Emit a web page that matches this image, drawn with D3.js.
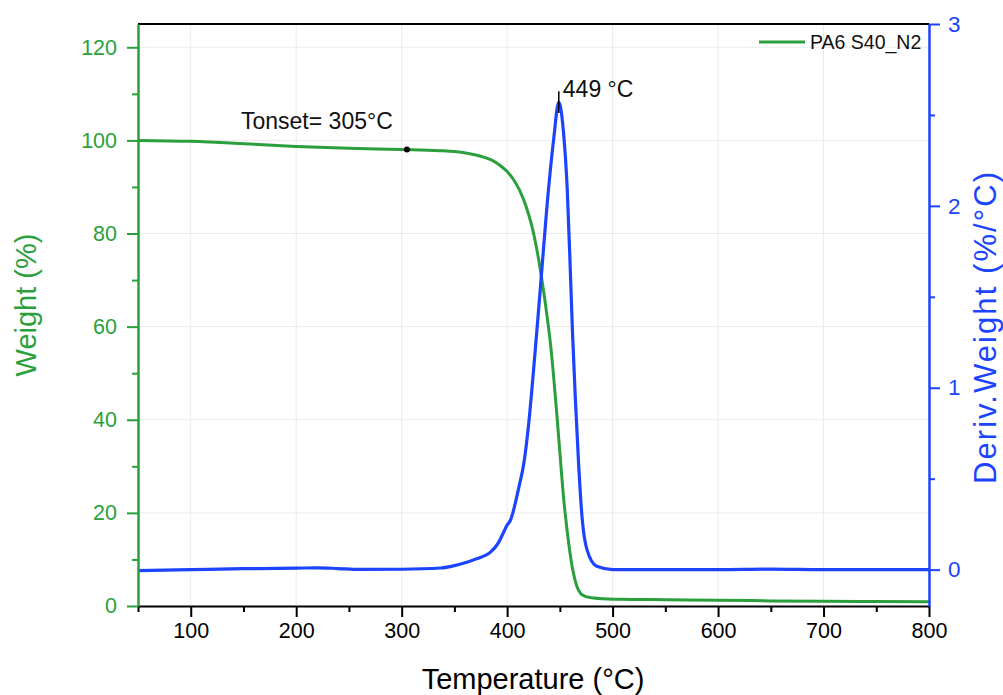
<!DOCTYPE html>
<html>
  <head>
    <meta charset="utf-8">
    <title>PA6 S40_N2 TGA</title>
    <script src="https://d3js.org/d3.v7.min.js"></script>
    <style>
      body { margin: 0; background: #fff; }
      text { font-family: "Liberation Sans", Arial, sans-serif; }
    </style>
  </head>
  <body>
    <script>
      // TGA weight curve
      var weightTemp = [50,100,150,200,250,300,336,350,362,375,385,394,400,406,412,418,423,428,433,438,441,444,447,450,453,457,462,466,470,475,482,490,507,550,600,650,700,750,800];
      var weightVal  = [100,99.8,99.3,98.7,98.3,98.05,97.8,97.6,97.25,96.6,95.8,94.5,93.3,91.6,89.2,85.8,82,76.8,70,62,56.5,49.5,41.5,33,24.5,16,8,4.3,2.6,2.0,1.7,1.55,1.45,1.35,1.25,1.1,1.0,0.95,0.9];

      // derivative curve
      var dtgTemp = [50,100,150,200,220,240,260,300,337,350,360,368,376,384,392,397,400,403,411,416,420.4,426.7,431.4,437.8,444,449,453.5,457,460,462,464.6,467.7,471,475.7,485,500,550,600,650,700,800];
      var dtgVal  = [-0.005,0.0,0.005,0.008,0.01,0.006,0.001,0.002,0.009,0.022,0.038,0.053,0.07,0.095,0.15,0.21,0.245,0.27,0.45,0.59,0.8,1.21,1.54,2.0,2.36,2.57,2.40,2.09,1.63,1.3,0.95,0.59,0.29,0.11,0.018,0.0,0.0,0.0,0.003,0.0,0.0];

      var xTicks = [100,200,300,400,500,600,700,800];
      var xMinor = [50,150,250,350,450,550,650,750];
      var wTicks = [0,20,40,60,80,100,120];
      var wMinor = [10,30,50,70,90,110];
      var dTicks = [0,1,2,3];
      var dMinor = [0.5,1.5,2.5];

      var seriesName = "PA6 S40_N2";
      var onsetT = 305, onsetW = 98.05;
      var peakT = 449;

      var green = "#2a9f3c";
      var blue = "#1c44ff";

      var W = 1003, H = 695;
      var pLeft = 138, pRight = 929, pTop = 24, pBottom = 606;

      var x = d3.scaleLinear().domain([50, 800]).range([pLeft, pRight]);
      var yW = d3.scaleLinear().domain([0, 125]).range([pBottom, pTop]);
      var yD = d3.scaleLinear().domain([-0.2, 3]).range([pBottom, pTop]);

      var svg = d3.select("body").append("svg")
        .attr("width", W).attr("height", H);

      // grid
      var grid = svg.append("g").attr("stroke", "#ebebeb").attr("stroke-width", 1);
      grid.selectAll(".gx").data(xTicks).enter().append("line")
        .attr("x1", function(d) { return x(d); }).attr("x2", function(d) { return x(d); })
        .attr("y1", pTop).attr("y2", pBottom);
      grid.selectAll(".gy").data(wTicks.filter(function(d) { return d > 0; })).enter().append("line")
        .attr("x1", pLeft).attr("x2", pRight)
        .attr("y1", function(d) { return yW(d); }).attr("y2", function(d) { return yW(d); });

      // top border
      svg.append("line").attr("x1", pLeft).attr("x2", pRight).attr("y1", pTop).attr("y2", pTop)
        .attr("stroke", "#000").attr("stroke-width", 2);

      // curves
      var wData = weightTemp.map(function(t, i) { return [t, weightVal[i]]; });
      var dData = dtgTemp.map(function(t, i) { return [t, dtgVal[i]]; });

      svg.append("path").datum(wData)
        .attr("fill", "none").attr("stroke", green).attr("stroke-width", 3)
        .attr("d", d3.line().curve(d3.curveMonotoneX)
          .x(function(d) { return x(d[0]); }).y(function(d) { return yW(d[1]); }));

      svg.append("path").datum(dData)
        .attr("fill", "none").attr("stroke", blue).attr("stroke-width", 3.2)
        .attr("d", d3.line().curve(d3.curveMonotoneX)
          .x(function(d) { return x(d[0]); }).y(function(d) { return yD(d[1]); }));

      // axes
      function styleAxis(g, color, width) {
        g.select(".domain").attr("stroke", color).attr("stroke-width", width);
        g.selectAll(".tick line").attr("stroke", color).attr("stroke-width", 2);
        g.selectAll(".tick text").attr("fill", color)
          .style("font-family", "'Liberation Sans', Arial, sans-serif").style("font-size", "21.5px");
      }

      var xAxis = svg.append("g").attr("transform", "translate(0," + pBottom + ")")
        .call(d3.axisBottom(x).tickValues(xTicks).tickSize(11).tickSizeOuter(0).tickPadding(6));
      styleAxis(xAxis, "#000", 2);
      svg.append("g").attr("transform", "translate(0," + pBottom + ")")
        .call(d3.axisBottom(x).tickValues(xMinor).tickSize(6).tickSizeOuter(0).tickFormat(""))
        .call(function(g) { g.select(".domain").remove(); g.selectAll("line").attr("stroke", "#000").attr("stroke-width", 2); });

      var wAxis = svg.append("g").attr("transform", "translate(" + pLeft + ",0)")
        .call(d3.axisLeft(yW).tickValues(wTicks).tickSize(11).tickSizeOuter(0).tickPadding(10));
      styleAxis(wAxis, green, 2.5);
      svg.append("g").attr("transform", "translate(" + pLeft + ",0)")
        .call(d3.axisLeft(yW).tickValues(wMinor).tickSize(6).tickSizeOuter(0).tickFormat(""))
        .call(function(g) { g.select(".domain").remove(); g.selectAll("line").attr("stroke", green).attr("stroke-width", 2); });

      var dAxis = svg.append("g").attr("transform", "translate(" + pRight + ",0)")
        .call(d3.axisRight(yD).tickValues(dTicks).tickFormat(d3.format("d")).tickSize(11).tickSizeOuter(0).tickPadding(8));
      styleAxis(dAxis, blue, 2.5);
      dAxis.selectAll(".tick text").style("font-size", "22.5px");
      svg.append("g").attr("transform", "translate(" + pRight + ",0)")
        .call(d3.axisRight(yD).tickValues(dMinor).tickSize(6).tickSizeOuter(0).tickFormat(""))
        .call(function(g) { g.select(".domain").remove(); g.selectAll("line").attr("stroke", blue).attr("stroke-width", 2); });

      // axis titles
      svg.append("text").attr("transform", "translate(36,305) rotate(-90)")
        .attr("text-anchor", "middle").attr("fill", green).style("font-size", "29px")
        .text("Weight (%)");
      svg.append("text").attr("transform", "translate(996,328) rotate(-90)")
        .attr("text-anchor", "middle").attr("fill", blue).style("font-size", "31px")
        .attr("textLength", 312).attr("lengthAdjust", "spacing")
        .text("Deriv.Weight (%/°C)");
      svg.append("text").attr("x", 533).attr("y", 689)
        .attr("text-anchor", "middle").attr("fill", "#000").style("font-size", "29px")
        .text("Temperature (°C)");

      // legend
      svg.append("line").attr("x1", 759).attr("x2", 805).attr("y1", 42).attr("y2", 42)
        .attr("stroke", green).attr("stroke-width", 3);
      svg.append("text").attr("x", 810).attr("y", 49).attr("fill", "#111")
        .style("font-size", "19.5px").text(seriesName);

      // annotations
      svg.append("circle").attr("cx", x(onsetT)).attr("cy", yW(onsetW)).attr("r", 3).attr("fill", "#000");
      svg.append("text").attr("x", 241).attr("y", 129).attr("fill", "#111")
        .style("font-size", "23px").text("Tonset= " + onsetT + "°C");

      svg.append("line").attr("x1", x(peakT)).attr("x2", x(peakT))
        .attr("y1", yD(2.63)).attr("y2", yD(2.51))
        .attr("stroke", "#000").attr("stroke-width", 1.5);
      svg.append("text").attr("x", x(peakT) + 4).attr("y", 97).attr("fill", "#111")
        .style("font-size", "23px").text(peakT + " °C");
    </script>
  </body>
</html>
